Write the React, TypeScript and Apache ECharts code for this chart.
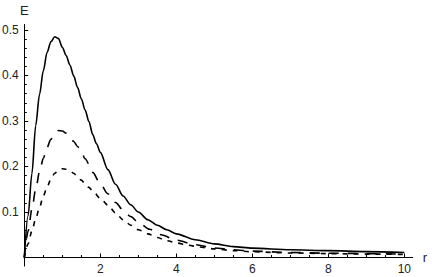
import { useEffect, useRef } from 'react';
import * as echarts from 'echarts';

// Curve 1 (solid)
const rSolid = [0, 0.1, 0.2, 0.3, 0.4, 0.5, 0.6, 0.7, 0.8, 0.9, 1.0, 1.1, 1.2, 1.3, 1.4, 1.5, 1.6, 1.7, 1.8, 1.9, 2.0, 2.2, 2.4, 2.6, 2.8, 3.0, 3.25, 3.5, 3.75, 4.0, 4.5, 5.0, 5.5, 6.0, 7.0, 8.0, 9.0, 10];
const eSolid = [0, 0.092, 0.184, 0.29, 0.358, 0.41, 0.451, 0.474, 0.485, 0.481, 0.462, 0.444, 0.423, 0.399, 0.374, 0.349, 0.324, 0.299, 0.27, 0.25, 0.231, 0.193, 0.161, 0.135, 0.116, 0.1, 0.083, 0.071, 0.061, 0.052, 0.039, 0.03, 0.024, 0.0205, 0.017, 0.015, 0.013, 0.011];

// Curve 2 (long dashes)
const rLong = [0, 0.1, 0.2, 0.3, 0.4, 0.5, 0.6, 0.7, 0.8, 0.9, 1.0, 1.1, 1.2, 1.3, 1.4, 1.5, 1.6, 1.8, 2.0, 2.2, 2.4, 2.6, 2.8, 3.0, 3.3, 3.6, 4.0, 4.5, 5.0, 5.5, 6.0, 7.0, 8.0, 9.0, 10];
const eLong = [0, 0.058, 0.106, 0.15, 0.188, 0.218, 0.242, 0.26, 0.273, 0.279, 0.278, 0.273, 0.265, 0.255, 0.244, 0.232, 0.217, 0.187, 0.162, 0.14, 0.121, 0.104, 0.09, 0.077, 0.062, 0.05, 0.038, 0.028, 0.021, 0.017, 0.014, 0.011, 0.0095, 0.0085, 0.0075];

// Curve 3 (short dashes)
const rShort = [0, 0.1, 0.2, 0.3, 0.4, 0.5, 0.6, 0.7, 0.8, 0.9, 1.0, 1.1, 1.2, 1.3, 1.4, 1.5, 1.6, 1.7, 1.8, 2.0, 2.2, 2.4, 2.6, 2.8, 3.0, 3.25, 3.5, 3.75, 4.0, 4.3, 4.6, 5.0, 5.5, 6.0, 7.0, 8.0, 9.0, 10];
const eShort = [0, 0.03, 0.058, 0.085, 0.11, 0.135, 0.155, 0.172, 0.185, 0.192, 0.195, 0.194, 0.191, 0.185, 0.177, 0.17, 0.162, 0.154, 0.146, 0.13, 0.115, 0.098, 0.083, 0.071, 0.061, 0.052, 0.044, 0.037, 0.032, 0.027, 0.023, 0.019, 0.015, 0.0125, 0.01, 0.0085, 0.0075, 0.0068];

// Axis ticks and labels
const xRange = [0, 10.22];
const yRange = [0, 0.512];
const xMajor = [2, 4, 6, 8, 10];
const yMajor = [0.1, 0.2, 0.3, 0.4, 0.5];
const originStub = [0];

const FONT = 'Liberation Sans, Arial, sans-serif';
const TEXT = '#222';

export default function App() {
  const ref = useRef<HTMLDivElement>(null);
  useEffect(() => {
    if (!ref.current) return;
    const chart = echarts.init(ref.current, undefined, { renderer: 'svg' });
    const pair = (rs: number[], es: number[]) => rs.map((r, i) => [r, es[i]]);
    const lineBase = {
      type: 'line' as const,
      showSymbol: false,
      symbol: 'none',
      smooth: 0.3,
      smoothMonotone: 'x' as const,
      xAxisIndex: 0,
      yAxisIndex: 0,
    };
    chart.setOption({
      animation: false,
      backgroundColor: '#fff',
      grid: { left: 24.3, right: 19.3, top: 24.5, bottom: 19.5, containLabel: false, outerBoundsMode: 'none' },
      xAxis: [
        {
          type: 'value', min: xRange[0], max: xRange[1], interval: 2, position: 'bottom',
          axisLine: { onZero: false, lineStyle: { color: '#000', width: 1 } },
          axisTick: { inside: true, length: 4, customValues: xMajor, lineStyle: { color: '#000' } },
          minorTick: { show: true, splitNumber: 4, length: 2.5, lineStyle: { color: '#000' } },
          axisLabel: { customValues: xMajor, margin: 5, color: TEXT, fontSize: 12, fontFamily: FONT },
          splitLine: { show: false },
          minorSplitLine: { show: false },
          name: 'r', nameLocation: 'end', nameGap: 10,
          nameTextStyle: { color: TEXT, fontSize: 13, fontFamily: FONT },
        },
        {
          // only draws the short stub of the vertical axis below the origin
          type: 'value', min: xRange[0], max: xRange[1], position: 'top',
          axisLine: { show: false, onZero: true, onZeroAxisIndex: 0 },
          axisTick: { show: true, inside: true, length: 9, customValues: originStub, lineStyle: { color: '#000' } },
          axisLabel: { show: false },
          splitLine: { show: false },
        },
      ],
      yAxis: [
        {
          type: 'value', min: yRange[0], max: yRange[1], interval: 0.1, position: 'left',
          axisLine: { show: true, onZero: false, lineStyle: { color: '#000', width: 1 } },
          axisTick: { show: true, inside: true, length: 4, customValues: yMajor, lineStyle: { color: '#000' } },
          minorTick: { show: true, splitNumber: 5, length: 2.5, lineStyle: { color: '#000' } },
          axisLabel: { customValues: yMajor, margin: 5.5, color: TEXT, fontSize: 12, fontFamily: FONT, formatter: (v: number) => v.toFixed(1) },
          splitLine: { show: false },
          minorSplitLine: { show: false },
          name: 'E', nameLocation: 'end', nameGap: 8,
          nameTextStyle: { color: TEXT, fontSize: 13, fontFamily: FONT },
        },
      ],
      series: [
        { ...lineBase, name: 'solid', data: pair(rSolid, eSolid), lineStyle: { color: '#000', width: 1.6, type: 'solid' } },
        { ...lineBase, name: 'long', data: pair(rLong, eLong), lineStyle: { color: '#000', width: 1.6, type: [10, 9], cap: 'butt' } },
        { ...lineBase, name: 'short', data: pair(rShort, eShort), lineStyle: { color: '#000', width: 1.6, type: [5, 6], cap: 'butt' } },
      ],
    });
    return () => chart.dispose();
  }, []);
  return <div ref={ref} style={{ position: 'absolute', left: 0, top: 0, width: 432, height: 277, background: '#fff' }} />;
}
